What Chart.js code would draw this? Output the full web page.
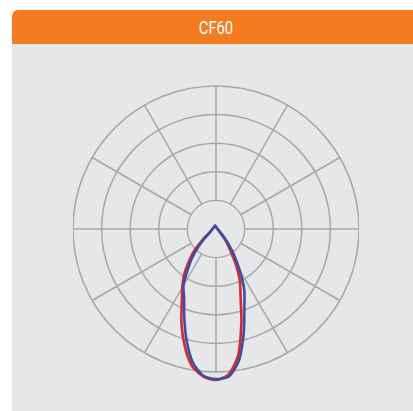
<!DOCTYPE html>
<html>
<head>
<meta charset="utf-8">
<script src="https://cdn.jsdelivr.net/npm/chart.js@4/dist/chart.umd.min.js"></script>
<style>
    html, body { margin: 0; padding: 0; background: #ffffff; }
    #header {
        position: absolute; left: 12px; top: 10px; width: 401px; height: 34px;
        background: #f47b20; border-top-left-radius: 6px;
        color: #ffffff; font-family: "Roboto", "Liberation Sans", sans-serif;
        font-size: 18px; line-height: 35px; text-align: center;
        box-sizing: border-box; padding-left: 6px;
    }
    #header span { display: inline-block; transform: scaleX(0.82); }
    #panel {
        position: absolute; left: 12px; top: 44px; width: 401px; height: 367px;
        background: #e6e7e8;
    }
    #polarChart { position: absolute; left: 73px; top: 74px; }
</style>
</head>
<body>
<div id="header"><span>CF60</span></div>
<div id="panel"></div>
<canvas id="polarChart" width="286" height="310"></canvas>
<script>
// angles in degrees, 0 = straight down, counted clockwise on screen
const angles = [];
for (let a = 0; a < 360; a += 5) angles.push(a);

// ring values (outer ring = 100)
const rings = [20, 40, 60, 80, 100];

// blue curve, one value per 5 degrees (12 per row = 60 degrees)
const blueValues = [
    105, 103, 94.4, 80, 65, 52.8, 45.5, 34.3, 25.7, 17.5, 10.8, 6.6,
    4.95, 4.1, 3.6, 3.15, 2.9, 2.6, 2.43, 2.3, 2.2, 2.1, 2.0, 2.0,
    1.96, 1.95, 1.95, 1.96, 2.0, 2.05, 2.1, 2.2, 2.32, 2.4, 1.86, 1.6,
    1.42, 1.3, 1.18, 1.1, 1.05, 1.0, 0.95, 0.92, 0.9, 0.89, 0.89, 0.89,
    0.89, 0.9, 0.92, 0.96, 1.0, 1.05, 1.12, 1.2, 1.3, 1.47, 1.7, 1.96,
    2.4, 3.1, 4.6, 7.7, 13, 21.7, 33, 46.6, 58, 75, 93, 103.5
];

// red curve, one value per 5 degrees
const redValues = [
    105.6, 103.5, 97.2, 84.6, 70.6, 56.6, 47.2, 38.8, 29.4, 21.7, 13.3, 8.4,
    5.6, 4.4, 3.8, 3.3, 2.95, 2.65, 2.45, 2.3, 2.2, 2.1, 2.0, 2.0,
    1.96, 1.95, 1.95, 1.96, 2.0, 2.05, 2.1, 2.2, 2.32, 2.4, 1.86, 1.6,
    1.42, 1.3, 1.18, 1.1, 1.05, 1.0, 0.95, 0.92, 0.9, 0.89, 0.89, 0.89,
    0.89, 0.9, 0.92, 0.96, 1.0, 1.05, 1.12, 1.2, 1.3, 1.45, 1.65, 1.9,
    2.3, 2.8, 3.5, 5.2, 10.5, 16, 26.6, 39.2, 50.3, 68.5, 89.5, 102
];

const panelColor = '#e6e7e8';
const gridColor = '#a7a8aa';

// the spokes start at the first ring, so blank out the middle
const innerRingPlugin = {
    id: 'innerRing',
    beforeDatasetsDraw(chart) {
        const r = chart.scales.r;
        const radius = r.getDistanceFromCenterForValue(rings[0]);
        const ctx = chart.ctx;
        ctx.save();
        ctx.beginPath();
        ctx.arc(r.xCenter, r.yCenter, radius - 0.75, 0, Math.PI * 2);
        ctx.fillStyle = panelColor;
        ctx.fill();
        ctx.restore();
    }
};

new Chart(document.getElementById('polarChart').getContext('2d'), {
    type: 'radar',
    data: {
        labels: angles,
        datasets: [{
            label: 'C90',
            data: blueValues,
            borderColor: '#3a4ea6',
            borderWidth: 2.6,
            pointRadius: 0,
            fill: false,
            tension: 0.25
        }, {
            label: 'C0',
            data: redValues,
            borderColor: '#d8282f',
            borderWidth: 2.6,
            pointRadius: 0,
            fill: false,
            tension: 0.25
        }]
    },
    options: {
        responsive: false,
        animation: false,
        plugins: {
            legend: { display: false },
            tooltip: { enabled: false }
        },
        scales: {
            r: {
                min: 0,
                max: 100,
                startAngle: 180,
                ticks: { display: false, stepSize: 20 },
                pointLabels: { display: false },
                grid: { circular: true, color: gridColor, lineWidth: 1.5 },
                angleLines: {
                    color: gridColor,
                    lineWidth: (ctx) => (angles[ctx.index] % 30 === 0 ? 1.5 : 0)
                }
            }
        }
    },
    plugins: [innerRingPlugin]
});
</script>
</body>
</html>
